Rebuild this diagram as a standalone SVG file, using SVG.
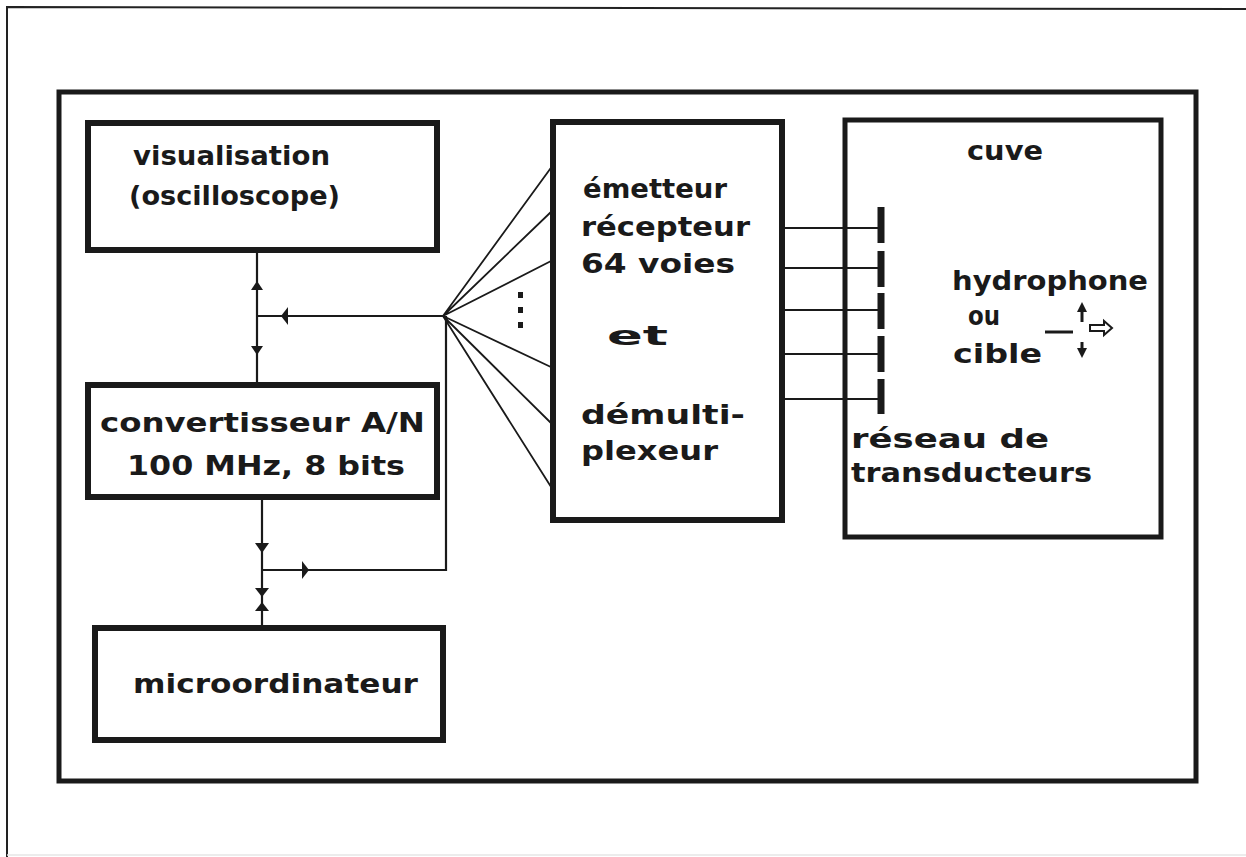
<svg xmlns="http://www.w3.org/2000/svg" width="1246" height="857" viewBox="0 0 1246 857">
<style>
.box{fill:none;stroke:#1a1a1a;stroke-width:6}
.frame{fill:none;stroke:#1a1a1a;stroke-width:5}
.thin{fill:none;stroke:#222;stroke-width:2}
.ln{fill:none;stroke:#1a1a1a;stroke-width:2.2}
.fan{fill:none;stroke:#1a1a1a;stroke-width:1.8}
.bar{fill:none;stroke:#1a1a1a;stroke-width:7}
.ah{fill:#1a1a1a;stroke:none}
text{font-family:"DejaVu Sans","Liberation Sans",sans-serif;font-weight:bold;font-size:26px;fill:#1a1a1a}
</style>
<rect width="1246" height="857" fill="#ffffff"/>
<g id="outer-frame">
<path class="thin" d="M7,857 L7,7 L1246,9"/>
<path d="M7,855 L1246,855" stroke="#e6e6e6" stroke-width="1.5"/>
<rect class="frame" x="59" y="92" width="1137" height="689"/>
</g>
<g id="connectors">
<path class="ln" d="M257,250 V385"/>
<path class="ln" d="M257,316 H443"/>
<path class="ln" d="M262,497 V628"/>
<path class="ln" d="M262,570 H446 V316"/>
<path class="fan" d="M443,316 L553,165 M443,316 L553,210 M443,316 L553,260 M443,316 L553,368 M443,316 L553,425 M443,316 L553,490"/>
<path class="ln" d="M782,228 H880 M782,268 H880 M782,310 H880 M782,354 H880 M782,399 H880"/>
<path class="ah" d="M257,281 L263,290 L251,290 Z"/>
<path class="ah" d="M281,316 L288,307 L288,325 Z"/>
<path class="ah" d="M257,355 L251,346 L263,346 Z"/>
<path class="ah" d="M262,553 L255,543 L269,543 Z"/>
<path class="ah" d="M309,570 L302,561 L302,579 Z"/>
<path class="ah" d="M262,597 L255,588 L269,588 Z"/>
<path class="ah" d="M262,602 L269,611 L255,611 Z"/>
<g fill="#1a1a1a">
<rect x="518" y="292" width="5" height="6"/>
<rect x="518" y="307" width="5" height="6"/>
<rect x="518" y="322" width="5" height="6"/>
</g>
</g>
<g id="visualisation">
<rect class="box" x="88" y="123" width="349" height="127"/>
<text x="133" y="165" textLength="197" lengthAdjust="spacingAndGlyphs">visualisation</text>
<text x="129" y="205" textLength="211" lengthAdjust="spacingAndGlyphs">(oscilloscope)</text>
</g>
<g id="convertisseur">
<rect class="box" x="88" y="385" width="349" height="112"/>
<text x="100" y="432" textLength="325" lengthAdjust="spacingAndGlyphs">convertisseur A/N</text>
<text x="127" y="475" textLength="278" lengthAdjust="spacingAndGlyphs">100 MHz, 8 bits</text>
</g>
<g id="microordinateur">
<rect class="box" x="95" y="628" width="348" height="112"/>
<text x="133" y="693" textLength="285" lengthAdjust="spacingAndGlyphs">microordinateur</text>
</g>
<g id="emetteur">
<rect class="box" x="553" y="122" width="229" height="398"/>
<text x="583" y="198" textLength="144" lengthAdjust="spacingAndGlyphs">émetteur</text>
<text x="581" y="236" textLength="169" lengthAdjust="spacingAndGlyphs">récepteur</text>
<text x="581" y="273" textLength="154" lengthAdjust="spacingAndGlyphs">64 voies</text>
<text x="607" y="345" textLength="61" lengthAdjust="spacingAndGlyphs">et</text>
<text x="581" y="424" textLength="164" lengthAdjust="spacingAndGlyphs">démulti-</text>
<text x="581" y="460" textLength="137" lengthAdjust="spacingAndGlyphs">plexeur</text>
</g>
<g id="cuve">
<rect class="frame" x="845" y="120" width="316" height="417"/>
<text x="967" y="160" textLength="76" lengthAdjust="spacingAndGlyphs">cuve</text>
<text x="952" y="290" textLength="196" lengthAdjust="spacingAndGlyphs">hydrophone</text>
<text x="968" y="325" textLength="32" lengthAdjust="spacingAndGlyphs">ou</text>
<text x="953" y="363" textLength="89" lengthAdjust="spacingAndGlyphs">cible</text>
<text x="851" y="448" textLength="198" lengthAdjust="spacingAndGlyphs">réseau de</text>
<text x="851" y="482" textLength="241" lengthAdjust="spacingAndGlyphs">transducteurs</text>
</g>
<g id="transducteurs">
<path class="bar" d="M881,207 V243 M881,251 V287 M881,293 V329 M881,336 V372 M881,379 V414"/>
</g>
<g id="hydrophone-symbol">
<path d="M1045,332 H1073" stroke="#1a1a1a" stroke-width="3"/>
<path d="M1082,322 V311" stroke="#1a1a1a" stroke-width="3"/>
<path class="ah" d="M1082,302 L1087,312 L1077,312 Z"/>
<path d="M1082,342 V350" stroke="#1a1a1a" stroke-width="3"/>
<path class="ah" d="M1082,358 L1077,348 L1087,348 Z"/>
<path d="M1090,325 H1104 V321 L1112,328 L1104,335 V331 H1090 Z" fill="#ffffff" stroke="#1a1a1a" stroke-width="2"/>
</g>
</svg>
